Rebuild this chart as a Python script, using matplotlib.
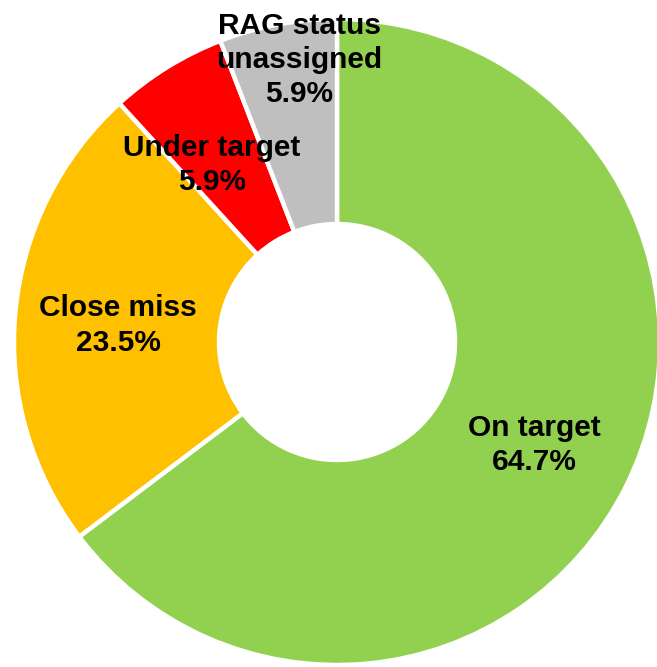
import numpy as np
import matplotlib
matplotlib.use("Agg")
import matplotlib.pyplot as plt

categories = ["On target", "Close miss", "Under target", "RAG status\nunassigned"]
counts = [11, 4, 1, 1]
colors = ["#92D050", "#FFC000", "#FF0000", "#BFBFBF"]

label_dist = [0.69, 0.68, 0.67, 0.88]
label_angle_shift = [-1.0, 1.0, 3.5, -3.0]

W, H = 657, 667
fig = plt.figure(figsize=(W / 100, H / 100), dpi=100)
ax = fig.add_axes([0, 0, 1, 1])

cx, cy, R = 337, H - 342, 323
wedges, _ = ax.pie(counts, colors=colors, startangle=90, counterclock=False,
                   center=(cx, cy), radius=R,
                   wedgeprops=dict(width=R - 118, edgecolor="white", linewidth=3.2))

total = sum(counts)
for w, cat, n, d, sh in zip(wedges, categories, counts, label_dist, label_angle_shift):
    ang = np.deg2rad((w.theta1 + w.theta2) / 2 + sh)
    x = cx + d * R * np.cos(ang)
    y = cy + d * R * np.sin(ang)
    ax.text(x, y, f"{cat}\n{n / total * 100:.1f}%", ha="center", va="center",
            fontsize=21.5, fontweight="bold", family="Liberation Sans",
            linespacing=1.28, color="black")

ax.set_xlim(0, W)
ax.set_ylim(0, H)
ax.set_aspect("equal")
ax.axis("off")
fig.savefig("out.png", dpi=100)
